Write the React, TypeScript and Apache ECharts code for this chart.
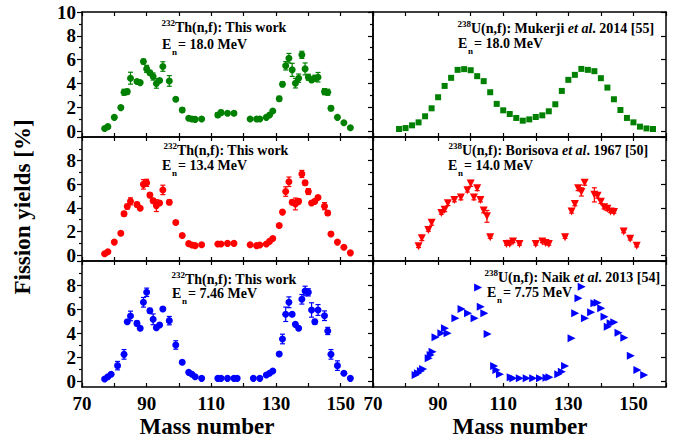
import React, { useEffect, useRef } from 'react';
import * as echarts from 'echarts';

// ---------- data ----------
// 232Th(n,f) 18.0 MeV (this work)
const th18Mass = [77,78,80,82,83,84,85,87,88,89,90,91,92,93,94,95,97,99,101,103,104,105,107,112,113,115,117,122,124,125,127,128,129,131,132,133,134,135,136,137,138,139,140,141,142,143,145,146,147,149,151,153];
const th18Yield = [0.22,0.37,1.15,1.97,3.26,3.31,4.44,4.16,4.07,5.84,5.22,4.9,4.58,4.0,4.24,5.42,4.21,2.67,1.77,1.07,1.01,0.98,1.01,1.35,1.55,1.49,1.49,1.01,1.01,1.01,1.15,1.35,1.69,2.72,3.93,5.48,6.12,5.14,4.02,4.44,6.4,5.22,4.52,4.3,4.44,4.52,3.31,3.26,1.91,1.15,0.7,0.28];
const th18Err = [0.1,0.1,0.15,0.15,0.25,0.2,0.5,0.15,0.1,0.2,0.3,0.2,0.3,0.4,0.15,0.4,0.45,0.15,0.2,0.1,0.1,0.1,0.1,0.2,0.2,0.15,0.15,0.1,0.1,0.1,0.1,0.1,0.1,0.2,0.2,0.35,0.4,0.55,0.4,0.35,0.3,0.5,0.25,0.2,0.25,0.4,0.25,0.25,0.2,0.1,0.1,0.1];

// 232Th(n,f) 13.4 MeV (this work)
const th13Mass = [77,78,80,82,83,84,85,87,88,89,90,91,92,93,94,95,97,99,101,103,104,105,107,112,113,115,117,122,124,125,127,128,129,131,132,133,134,135,136,137,138,139,140,141,142,143,145,146,147,149,151,153];
const th13Yield = [0.11,0.28,1.1,1.85,3.5,4.11,4.55,4.28,3.97,5.99,6.12,5.08,4.6,4.19,4.41,5.52,4.47,2.76,1.66,0.97,0.86,0.8,0.88,0.94,0.94,0.99,0.99,0.88,0.8,0.86,0.94,1.16,1.41,2.51,3.64,5.38,6.21,4.47,4.33,4.55,6.87,6.12,5.38,4.41,4.55,4.88,4.14,3.56,1.79,1.1,0.66,0.19];
const th13Err = [0.1,0.1,0.1,0.15,0.2,0.2,0.3,0.2,0.1,0.4,0.3,0.2,0.2,0.5,0.15,0.4,0.2,0.15,0.15,0.1,0.1,0.1,0.1,0.1,0.1,0.1,0.1,0.1,0.1,0.1,0.1,0.1,0.15,0.15,0.15,0.4,0.4,0.2,0.5,0.2,0.3,0.2,0.25,0.15,0.15,0.15,0.3,0.2,0.15,0.1,0.1,0.1];

// 232Th(n,f) 7.46 MeV (this work)
const th7Mass = [77,78,79,81,83,84,85,87,88,89,90,91,92,93,94,95,97,99,101,103,104,105,107,112,113,115,117,118,123,125,127,128,129,131,132,133,134,135,136,137,138,139,140,141,142,143,145,146,147,149,151,153];
const th7Yield = [0.17,0.36,0.56,1.28,2.22,4.94,5.42,4.8,4.39,6.56,7.39,5.86,5.14,4.44,4.67,6.0,5.03,3.0,1.56,0.72,0.56,0.36,0.22,0.22,0.22,0.22,0.22,0.22,0.22,0.22,0.5,0.64,0.83,2.25,3.5,5.56,6.56,5.56,4.72,4.39,6.81,7.5,7.39,5.92,4.94,5.92,5.44,4.17,2.22,1.28,0.64,0.22];
const th7Err = [0.1,0.1,0.1,0.35,0.4,0.15,0.4,0.2,0.15,0.4,0.35,0.2,0.45,0.15,0.15,0.15,0.35,0.35,0.15,0.1,0.1,0.1,0.1,0.1,0.1,0.1,0.1,0.1,0.1,0.1,0.1,0.1,0.1,0.15,0.4,0.6,0.45,0.15,0.15,0.15,0.4,0.4,0.3,0.6,0.2,0.45,0.4,0.3,0.4,0.4,0.1,0.1];

// 238U(n,f) Mukerji et al. 2014, 18.0 MeV
const mukMass = [78,80,82,84,86,88,90,92,94,96,98,100,102,104,106,108,110,112,114,116,118,120,122,124,126,128,130,132,134,136,138,140,142,144,146,148,150,152,154,156];
const mukYield = [0.17,0.25,0.48,0.73,1.24,1.91,2.84,3.79,4.47,5.14,5.2,5.11,4.61,4.19,3.26,2.28,1.74,1.43,1.1,0.87,0.98,1.18,1.32,1.66,2.25,3.37,4.3,4.72,5.22,5.14,5.03,4.44,3.65,2.67,1.77,1.1,0.73,0.37,0.22,0.17];

// 238U(n,f) Borisova et al. 1967, 14.0 MeV
const borMass = [84,85,87,88,91,92,93,95,97,99,100,101,102,103,104,105,106,111,112,113,115,120,122,123,124,129,131,132,133,134,135,138,139,140,141,142,143,144,147,149,151];
const borYield = [0.74,1.43,2.12,2.73,3.56,3.83,4.39,4.66,4.88,5.49,6.07,4.88,5.66,4.66,3.78,3.28,1.52,0.94,0.97,1.16,0.94,0.94,1.16,1.02,0.94,1.52,3.7,4.33,5.66,5.35,6.12,5.1,5.02,4.52,4.06,3.92,3.7,3.64,1.99,1.38,0.8];
const borErr = [0.1,0.2,0.1,0.2,0.1,0.15,0.2,0.15,0.2,0.15,0.25,0.2,0.2,0.15,0.2,0.5,0.1,0.1,0.1,0.1,0.1,0.1,0.1,0.1,0.1,0.1,0.15,0.15,0.2,0.35,0.2,0.6,0.2,0.15,0.15,0.15,0.1,0.1,0.1,0.1,0.1];

// 238U(n,f) Naik et al. 2013, 7.75 MeV
const naiMass = [83.1,83.8,84.7,85.4,87.1,87.7,88.3,89.2,91.0,92.1,92.9,95.3,97.2,99.2,101.2,102.3,103.1,104.2,105.2,107.2,107.9,109.0,112.3,113.1,115.1,117.2,119.2,121.3,123.3,124.2,126.9,128.0,129.0,131.0,132.1,133.1,134.1,135.1,137.0,138.0,139.0,140.1,141.1,142.1,143.0,144.1,145.4,147.2,149.2,151.2,153.3];
const naiYield = [0.5,0.64,0.83,1.0,1.89,2.17,2.44,3.64,3.97,4.39,3.97,5.22,6.0,5.64,5.22,7.8,6.19,5.64,3.92,1.25,0.92,0.56,0.31,0.22,0.22,0.22,0.22,0.22,0.28,0.31,0.56,0.78,1.25,3.56,5.64,6.89,7.86,5.22,5.72,6.47,6.53,6.06,5.36,4.53,4.81,4.89,4.03,3.61,2.11,0.92,0.5];

const xLabelValues = [70, 90, 110, 130, 150];
const yMajorTicks = [0, 2, 4, 6, 8, 10];
const yMinorTicks = [1, 3, 5, 7, 9];

const GREEN = '#008000';
const RED = '#ff0000';
const BLUE = '#0000ff';
const FONT = 'Liberation Serif, Times New Roman, serif';

function pairs(m: number[], y: number[]) {
  return m.map((v, i) => [v, y[i]]);
}
function errData(m: number[], y: number[], e: number[]) {
  return m.map((v, i) => [v, y[i] - e[i], y[i] + e[i]]);
}

export default function App() {
  const ref = useRef<HTMLDivElement>(null);

  useEffect(() => {
    if (!ref.current) return;
    const chart = echarts.init(ref.current, null, { renderer: 'svg' });

    const grids = [
      { left: 82, top: 12, width: 291, height: 125 },
      { left: 373, top: 12, width: 293, height: 125 },
      { left: 82, top: 137, width: 291, height: 124 },
      { left: 373, top: 137, width: 293, height: 124 },
      { left: 82, top: 261, width: 291, height: 126 },
      { left: 373, top: 261, width: 293, height: 126 },
    ];

    const lineStyle = { color: '#000', width: 1.5 };
    const tickStyle = { color: '#000', width: 1.2 };
    const labelStyle = { fontFamily: FONT, fontWeight: 'bold' as const, fontSize: 19, color: '#000' };

    const xAxes: any[] = [];
    const yAxes: any[] = [];
    grids.forEach((_, g) => {
      const bottomRow = g >= 4;
      const isLeft = g % 2 === 0;
      xAxes.push({
        gridIndex: g, type: 'value', position: 'bottom', min: 70, max: 160, interval: 10,
        axisLine: { onZero: false, lineStyle },
        axisTick: { inside: true, length: 4, lineStyle: tickStyle },
        splitLine: { show: false },
        axisLabel: {
          show: bottomRow, margin: 7, ...labelStyle,
          formatter: (v: number) => (xLabelValues.includes(v) ? String(v) : ''),
        },
      });
      xAxes.push({
        gridIndex: g, type: 'value', position: 'top', min: 70, max: 160, interval: 10,
        axisLine: { onZero: false, lineStyle },
        axisTick: { inside: true, length: 4, lineStyle: tickStyle },
        splitLine: { show: false },
        axisLabel: { show: false },
      });
      yAxes.push({
        gridIndex: g, type: 'value', position: 'left', min: -0.5, max: 10,
        axisLine: { show: true, onZero: false, lineStyle },
        axisTick: { show: true, inside: false, length: 5, lineStyle: tickStyle, customValues: yMajorTicks },
        splitLine: { show: false },
        axisLabel: {
          show: isLeft, margin: 6, ...labelStyle,
          customValues: g === 0 ? yMajorTicks : yMajorTicks.slice(0, 5),
        },
      });
      yAxes.push({
        gridIndex: g, type: 'value', position: 'left', min: -0.5, max: 10,
        axisLine: { show: false, onZero: false },
        axisTick: { show: true, inside: false, length: 3, lineStyle: tickStyle, customValues: yMinorTicks },
        splitLine: { show: false },
        axisLabel: { show: false },
      });
      yAxes.push({
        gridIndex: g, type: 'value', position: 'right', min: -0.5, max: 10,
        axisLine: { show: true, onZero: false, lineStyle },
        axisTick: { show: !isLeft, inside: true, length: 5, lineStyle: tickStyle, customValues: yMajorTicks },
        splitLine: { show: false },
        axisLabel: { show: false },
      });
    });

    const errSeries = (g: number, data: number[][], color: string) => ({
      type: 'custom',
      xAxisIndex: 2 * g,
      yAxisIndex: 3 * g,
      data,
      encode: { x: 0, y: [1, 2] },
      silent: true,
      z: 2,
      renderItem: (_p: any, api: any) => {
        const x = api.value(0);
        const p1 = api.coord([x, api.value(1)]);
        const p2 = api.coord([x, api.value(2)]);
        const w = 2.5;
        const st = { stroke: color, lineWidth: 1.2 };
        return {
          type: 'group',
          children: [
            { type: 'line', shape: { x1: p1[0], y1: p1[1], x2: p2[0], y2: p2[1] }, style: st },
            { type: 'line', shape: { x1: p1[0] - w, y1: p1[1], x2: p1[0] + w, y2: p1[1] }, style: st },
            { type: 'line', shape: { x1: p2[0] - w, y1: p2[1], x2: p2[0] + w, y2: p2[1] }, style: st },
          ],
        };
      },
    });

    const scat = (g: number, data: number[][], color: string, symbol: string, size: number, rotate = 0) => ({
      type: 'scatter',
      xAxisIndex: 2 * g,
      yAxisIndex: 3 * g,
      data,
      symbol,
      symbolSize: size,
      symbolRotate: rotate,
      itemStyle: { color, opacity: 1 },
      z: 3,
      silent: true,
    });

    const series = [
      errSeries(0, errData(th18Mass, th18Yield, th18Err), GREEN),
      scat(0, pairs(th18Mass, th18Yield), GREEN, 'circle', 7),
      scat(1, pairs(mukMass, mukYield), GREEN, 'rect', 6),
      errSeries(2, errData(th13Mass, th13Yield, th13Err), RED),
      scat(2, pairs(th13Mass, th13Yield), RED, 'circle', 7),
      errSeries(3, errData(borMass, borYield, borErr), RED),
      scat(3, pairs(borMass, borYield), RED, 'triangle', 8, 180),
      errSeries(4, errData(th7Mass, th7Yield, th7Err), BLUE),
      scat(4, pairs(th7Mass, th7Yield), BLUE, 'circle', 7),
      scat(5, pairs(naiMass, naiYield), BLUE, 'triangle', 8, -90),
    ];

    const txt = (x: number, y: number, text: string, size: number, align = 'left', extra: any = {}) => ({
      type: 'text', x, y, z: 10,
      style: {
        text, fontFamily: FONT, fontWeight: 'bold', fontSize: size, fill: '#000',
        align, verticalAlign: 'middle', ...extra,
      },
    });

    const annot = (x0: number, base: number, sup: string, main: string, ex: number, eBase: number, rest: string, rich?: any) => {
      const els: any[] = [
        txt(x0, base - 9, sup, 9, 'right'),
        rich
          ? { type: 'text', x: x0, y: base - 5, z: 10, style: { text: main, rich, fontFamily: FONT, fontWeight: 'bold', fontSize: 14, fill: '#000', align: 'left', verticalAlign: 'middle' } }
          : txt(x0, base - 5, main, 14),
        txt(ex, eBase - 5, 'E', 14),
        txt(ex + 10, eBase + 2.5, 'n', 9),
        txt(ex + 16, eBase - 5, rest, 14),
      ];
      return els;
    };

    const richBase = {
      a: { fontFamily: FONT, fontWeight: 'bold', fontSize: 14, color: '#000' },
      i: { fontFamily: FONT, fontWeight: 'bold', fontStyle: 'italic', fontSize: 14, color: '#000' },
    };

    const graphic: any[] = [
      ...annot(175, 32, '232', 'Th(n,f): This work', 162, 49, '= 18.0 MeV'),
      ...annot(177, 155, '232', 'Th(n,f): This work', 162, 170, '= 13.4 MeV'),
      ...annot(185, 284, '232', 'Th(n,f): This work', 172, 298, '= 7.46 MeV'),
      ...annot(471, 33, '238', '{a|U(n,f): Mukerji }{i|et al}{a|. 2014 [55]}', 458, 48, '= 18.0 MeV', richBase),
      ...annot(462, 155, '238', '{a|U(n,f): Borisova }{i|et al}{a|. 1967 [50]}', 448, 170, '= 14.0 MeV', richBase),
      ...annot(498, 282, '238', '{a|U(n,f): Naik }{i|et al}{a|. 2013 [54]}', 487, 297, '= 7.75 MeV', richBase),
      txt(207, 426, 'Mass number', 23, 'center'),
      txt(520, 426, 'Mass number', 23, 'center'),
      { type: 'text', x: 22, y: 207, rotation: Math.PI / 2, z: 10,
        style: { text: 'Fission yields [%]', fontFamily: FONT, fontWeight: 'bold', fontSize: 23, fill: '#000', align: 'center', verticalAlign: 'middle' } },
    ];

    chart.setOption({
      animation: false,
      backgroundColor: '#fff',
      grid: grids,
      xAxis: xAxes,
      yAxis: yAxes,
      series,
      graphic,
    });

    return () => chart.dispose();
  }, []);

  return <div ref={ref} style={{ position: 'absolute', left: 0, top: 0, width: 685, height: 444 }} />;
}
